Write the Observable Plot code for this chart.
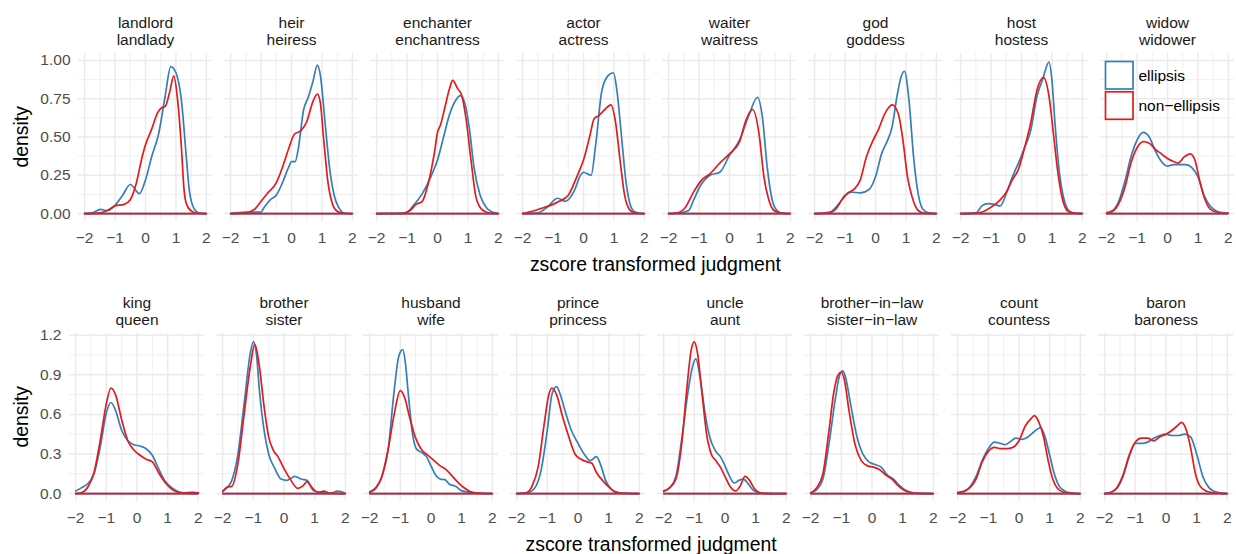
<!DOCTYPE html>
<html>
<head>
<meta charset="utf-8">
<script src="https://cdn.jsdelivr.net/npm/d3@7"></script>
<script src="https://cdn.jsdelivr.net/npm/@observablehq/plot@0.6"></script>
<style>
  html, body { margin: 0; padding: 0; background: #fff; }
  #chart { width: 1236px; }
  #chart svg { display: block; }
</style>
</head>
<body>
<div id="chart"></div>
<script>
// ---------- categories ----------
const seriesNames = ["ellipsis", "non-ellipsis"];
const seriesColors = ["#377EB8", "#E41A1C"];
const row1Panels = ["landlord", "heir", "enchanter", "actor", "waiter", "god", "host", "widow"];
const row1Labels = ["landlord\nlandlady", "heir\nheiress", "enchanter\nenchantress", "actor\nactress", "waiter\nwaitress", "god\ngoddess", "host\nhostess", "widow\nwidower"];
const row2Panels = ["king", "brother", "husband", "prince", "uncle", "bil", "count", "baron"];
const row2Labels = ["king\nqueen", "brother\nsister", "husband\nwife", "prince\nprincess", "uncle\naunt", "brother\u2212in\u2212law\nsister\u2212in\u2212law", "count\ncountess", "baron\nbaroness"];

// ---------- tick labels ----------
const xTicks = [-2, -1, 0, 1, 2];
const xMinor = [-1.5, -0.5, 0.5, 1.5];
const row1YTicks = [0, 0.25, 0.5, 0.75, 1.0];
const row1YMinor = [0.125, 0.375, 0.625, 0.875];
const row2YTicks = [0, 0.3, 0.6, 0.9, 1.2];
const row2YMinor = [0.15, 0.45, 0.75, 1.05];

// ---------- density values [x, density] ----------
const landlord_e = [[-2,0],[-1.75,0.005],[-1.48,0.027],[-1.25,0.02],[-1.0,0.054],[-0.75,0.12],[-0.5,0.19],[-0.2,0.13],[0,0.22],[0.2,0.37],[0.43,0.52],[0.64,0.76],[0.83,0.96],[1.0,0.92],[1.18,0.74],[1.34,0.37],[1.44,0.15],[1.6,0.03],[1.75,0.005],[2,0]];
const landlord_n = [[-2,0],[-1.6,0.003],[-1.3,0.015],[-1.0,0.05],[-0.7,0.06],[-0.5,0.09],[-0.3,0.2],[-0.1,0.38],[0,0.45],[0.2,0.55],[0.4,0.66],[0.52,0.69],[0.65,0.7],[0.8,0.8],[0.93,0.9],[1.05,0.75],[1.18,0.43],[1.26,0.17],[1.34,0.065],[1.5,0.017],[1.7,0.002],[2,0]];
const heir_e = [[-2,0],[-1.5,0.01],[-1.0,0.01],[-0.9,0.04],[-0.7,0.09],[-0.5,0.12],[-0.3,0.2],[-0.1,0.3],[0,0.34],[0.12,0.34],[0.22,0.42],[0.4,0.68],[0.55,0.76],[0.7,0.86],[0.85,0.97],[0.95,0.9],[1.1,0.6],[1.25,0.3],[1.4,0.12],[1.55,0.04],[1.75,0.002],[2,0]];
const heir_n = [[-2,0],[-1.5,0.005],[-1.2,0.03],[-1.0,0.08],[-0.8,0.13],[-0.5,0.2],[-0.3,0.3],[-0.1,0.42],[0.1,0.52],[0.3,0.54],[0.5,0.6],[0.7,0.73],[0.85,0.78],[0.95,0.72],[1.05,0.5],[1.2,0.2],[1.35,0.06],[1.5,0.015],[1.7,0.002],[2,0]];
const enchanter_e = [[-2,0],[-1.2,0.001],[-1.0,0.01],[-0.8,0.05],[-0.5,0.13],[-0.2,0.25],[0,0.35],[0.2,0.5],[0.4,0.65],[0.6,0.74],[0.75,0.77],[0.9,0.72],[1.05,0.55],[1.2,0.3],[1.4,0.12],[1.6,0.04],[1.8,0.01],[2,0]];
const enchanter_n = [[-2,0],[-1.1,0.001],[-0.9,0.02],[-0.7,0.06],[-0.5,0.08],[-0.3,0.2],[-0.1,0.4],[0,0.53],[0.1,0.58],[0.25,0.7],[0.4,0.82],[0.5,0.87],[0.65,0.82],[0.8,0.77],[0.95,0.6],[1.1,0.35],[1.25,0.12],[1.4,0.04],[1.6,0.01],[1.8,0.001],[2,0]];
const actor_e = [[-2,0],[-1.5,0.005],[-1.2,0.04],[-0.85,0.1],[-0.6,0.08],[-0.3,0.15],[-0.1,0.25],[0,0.27],[0.25,0.25],[0.4,0.45],[0.6,0.8],[0.8,0.9],[0.98,0.92],[1.1,0.8],[1.25,0.5],[1.4,0.2],[1.55,0.05],[1.7,0.01],[1.9,0.001],[2,0]];
const actor_n = [[-2,0],[-1.6,0.02],[-1.3,0.04],[-1.0,0.06],[-0.8,0.08],[-0.5,0.12],[-0.2,0.25],[0,0.35],[0.2,0.5],[0.35,0.62],[0.5,0.64],[0.7,0.68],[0.9,0.71],[1.05,0.6],[1.2,0.35],[1.35,0.12],[1.5,0.03],[1.7,0.002],[2,0]];
const waiter_e = [[-2,0],[-1.6,0.005],[-1.34,0.02],[-1.18,0.087],[-0.96,0.18],[-0.64,0.25],[-0.32,0.27],[0,0.38],[0.33,0.48],[0.65,0.65],[0.92,0.76],[1.08,0.63],[1.24,0.3],[1.4,0.09],[1.56,0.02],[1.75,0.002],[2,0]];
const waiter_n = [[-2,0],[-1.72,0.005],[-1.45,0.04],[-1.18,0.14],[-0.91,0.22],[-0.64,0.26],[-0.32,0.33],[0,0.39],[0.33,0.47],[0.54,0.61],[0.76,0.68],[0.97,0.52],[1.13,0.24],[1.29,0.09],[1.46,0.02],[1.65,0.005],[2,0]];
const god_e = [[-2,0],[-1.5,0.01],[-1.2,0.065],[-1.0,0.12],[-0.8,0.14],[-0.5,0.135],[-0.2,0.16],[0,0.24],[0.2,0.39],[0.4,0.48],[0.55,0.57],[0.7,0.76],[0.85,0.9],[0.95,0.93],[1.1,0.74],[1.25,0.37],[1.4,0.13],[1.55,0.03],[1.75,0.005],[2,0]];
const god_n = [[-2,0],[-1.5,0.005],[-1.3,0.03],[-1.1,0.09],[-0.9,0.135],[-0.7,0.16],[-0.5,0.22],[-0.3,0.37],[-0.1,0.47],[0.1,0.55],[0.3,0.65],[0.55,0.71],[0.75,0.65],[0.9,0.48],[1.05,0.24],[1.2,0.11],[1.4,0.02],[1.6,0.003],[2,0]];
const host_e = [[-2,0],[-1.5,0.005],[-1.3,0.05],[-1.1,0.065],[-0.9,0.06],[-0.7,0.05],[-0.5,0.13],[-0.3,0.24],[-0.1,0.33],[0.1,0.43],[0.3,0.54],[0.5,0.76],[0.7,0.88],[0.9,0.99],[1.0,0.87],[1.1,0.59],[1.25,0.26],[1.4,0.09],[1.55,0.02],[1.7,0.005],[2,0]];
const host_n = [[-2,0],[-1.5,0.003],[-1.3,0.01],[-1.1,0.03],[-0.9,0.055],[-0.7,0.09],[-0.5,0.14],[-0.3,0.22],[-0.1,0.29],[0.1,0.43],[0.3,0.59],[0.5,0.8],[0.72,0.89],[0.9,0.77],[1.05,0.52],[1.2,0.26],[1.35,0.09],[1.5,0.02],[1.7,0.003],[2,0]];
const widow_e = [[-2,0.005],[-1.8,0.02],[-1.6,0.08],[-1.4,0.21],[-1.2,0.37],[-1.0,0.48],[-0.8,0.53],[-0.6,0.5],[-0.4,0.41],[-0.2,0.34],[0,0.31],[0.2,0.32],[0.4,0.32],[0.6,0.32],[0.8,0.3],[1.0,0.24],[1.2,0.12],[1.4,0.05],[1.6,0.017],[1.8,0.006],[2,0.002]];
const widow_n = [[-2,0.004],[-1.8,0.015],[-1.6,0.065],[-1.4,0.17],[-1.2,0.33],[-1.0,0.43],[-0.8,0.47],[-0.6,0.46],[-0.4,0.42],[-0.2,0.39],[0,0.36],[0.2,0.34],[0.35,0.33],[0.55,0.37],[0.75,0.39],[0.9,0.35],[1.05,0.22],[1.2,0.11],[1.4,0.03],[1.6,0.01],[1.8,0.003],[2,0.001]];

const king_e = [[-2,0.02],[-1.8,0.045],[-1.6,0.076],[-1.4,0.15],[-1.2,0.35],[-1.0,0.61],[-0.85,0.69],[-0.7,0.63],[-0.5,0.48],[-0.3,0.4],[-0.1,0.37],[0.1,0.36],[0.3,0.34],[0.5,0.29],[0.7,0.19],[0.9,0.1],[1.1,0.05],[1.3,0.02],[1.5,0.005],[1.7,0.002],[2,0]];
const king_n = [[-2,0],[-1.8,0.008],[-1.6,0.05],[-1.4,0.16],[-1.2,0.4],[-1.0,0.68],[-0.85,0.8],[-0.7,0.75],[-0.5,0.56],[-0.3,0.4],[-0.1,0.33],[0.1,0.29],[0.3,0.26],[0.5,0.24],[0.7,0.16],[0.9,0.09],[1.1,0.04],[1.3,0.013],[1.5,0.005],[1.7,0.008],[1.85,0.01],[2,0.005]];
const brother_e = [[-2,0.02],[-1.85,0.045],[-1.7,0.1],[-1.5,0.3],[-1.3,0.68],[-1.1,1.06],[-1.0,1.15],[-0.9,1.06],[-0.8,0.78],[-0.65,0.48],[-0.5,0.3],[-0.3,0.19],[-0.1,0.11],[0.1,0.1],[0.35,0.13],[0.55,0.11],[0.75,0.1],[0.95,0.025],[1.2,0.008],[1.5,0.002],[1.75,0.018],[2,0.002]];
const brother_n = [[-2,0.013],[-1.85,0.05],[-1.7,0.055],[-1.5,0.23],[-1.3,0.6],[-1.1,0.96],[-0.95,1.13],[-0.8,0.96],[-0.65,0.66],[-0.5,0.43],[-0.35,0.33],[-0.2,0.28],[0,0.19],[0.2,0.11],[0.45,0.04],[0.6,0.055],[0.75,0.09],[0.9,0.05],[1.1,0.01],[1.3,0.018],[1.5,0.003],[2,0]];
const husband_e = [[-2,0.013],[-1.8,0.045],[-1.6,0.13],[-1.4,0.33],[-1.2,0.78],[-1.05,1.04],[-0.92,1.09],[-0.83,0.98],[-0.75,0.78],[-0.6,0.45],[-0.48,0.34],[-0.3,0.31],[-0.15,0.28],[0,0.21],[0.15,0.14],[0.3,0.11],[0.45,0.106],[0.6,0.07],[0.8,0.055],[1.0,0.02],[1.2,0.013],[1.4,0.005],[1.6,0.002],[2,0]];
const husband_n = [[-2,0.008],[-1.8,0.04],[-1.6,0.13],[-1.4,0.33],[-1.2,0.6],[-1.0,0.78],[-0.85,0.72],[-0.7,0.58],[-0.5,0.42],[-0.3,0.33],[-0.1,0.29],[0.1,0.25],[0.3,0.21],[0.5,0.18],[0.7,0.13],[0.9,0.08],[1.1,0.04],[1.3,0.013],[1.5,0.005],[1.7,0.001],[2,0]];
const prince_e = [[-2,0],[-1.6,0.01],[-1.4,0.045],[-1.2,0.18],[-1.0,0.48],[-0.85,0.75],[-0.7,0.81],[-0.55,0.73],[-0.4,0.61],[-0.2,0.47],[0,0.38],[0.2,0.3],[0.4,0.25],[0.6,0.28],[0.75,0.21],[0.9,0.1],[1.1,0.03],[1.3,0.008],[1.5,0.002],[2,0]];
const prince_n = [[-2,0],[-1.7,0.005],[-1.5,0.055],[-1.3,0.2],[-1.1,0.53],[-0.95,0.75],[-0.85,0.8],[-0.7,0.75],[-0.5,0.58],[-0.3,0.43],[-0.1,0.3],[0.1,0.26],[0.3,0.24],[0.45,0.23],[0.6,0.16],[0.8,0.1],[1.0,0.05],[1.2,0.013],[1.4,0.003],[2,0]];
const uncle_e = [[-2,0.02],[-1.8,0.045],[-1.6,0.13],[-1.4,0.43],[-1.2,0.78],[-1.05,0.97],[-0.95,1.02],[-0.8,0.86],[-0.65,0.61],[-0.5,0.43],[-0.3,0.32],[-0.15,0.28],[0,0.21],[0.15,0.13],[0.3,0.08],[0.45,0.1],[0.6,0.11],[0.75,0.075],[0.9,0.03],[1.1,0.008],[1.3,0.002],[2,0]];
const uncle_n = [[-2,0.015],[-1.8,0.045],[-1.6,0.11],[-1.4,0.4],[-1.25,0.78],[-1.1,1.09],[-1.0,1.15],[-0.9,1.07],[-0.75,0.76],[-0.6,0.45],[-0.45,0.3],[-0.3,0.25],[-0.15,0.2],[0,0.13],[0.15,0.06],[0.35,0.02],[0.5,0.06],[0.65,0.13],[0.8,0.1],[0.95,0.04],[1.1,0.01],[1.3,0.002],[2,0]];
const bil_e = [[-2,0.005],[-1.8,0.03],[-1.6,0.11],[-1.4,0.38],[-1.2,0.71],[-1.05,0.9],[-0.95,0.93],[-0.85,0.87],[-0.7,0.68],[-0.5,0.44],[-0.3,0.3],[-0.1,0.24],[0.1,0.22],[0.3,0.2],[0.5,0.14],[0.7,0.11],[0.9,0.06],[1.1,0.025],[1.3,0.008],[1.5,0.003],[2,0]];
const bil_n = [[-2,0.005],[-1.8,0.045],[-1.6,0.15],[-1.4,0.48],[-1.25,0.76],[-1.1,0.9],[-1.0,0.92],[-0.9,0.86],[-0.75,0.63],[-0.55,0.37],[-0.35,0.25],[-0.15,0.21],[0.05,0.2],[0.25,0.18],[0.45,0.14],[0.65,0.11],[0.85,0.06],[1.05,0.025],[1.25,0.008],[1.5,0.002],[2,0]];
const count_e = [[-2,0.01],[-1.8,0.018],[-1.6,0.05],[-1.4,0.13],[-1.2,0.25],[-1.0,0.34],[-0.8,0.39],[-0.6,0.38],[-0.45,0.37],[-0.3,0.39],[-0.1,0.42],[0.1,0.41],[0.3,0.43],[0.5,0.47],[0.7,0.5],[0.85,0.43],[1.0,0.29],[1.15,0.15],[1.3,0.06],[1.5,0.018],[1.7,0.005],[2,0]];
const count_n = [[-2,0.005],[-1.8,0.015],[-1.6,0.045],[-1.4,0.11],[-1.2,0.24],[-1.0,0.32],[-0.8,0.35],[-0.6,0.34],[-0.4,0.34],[-0.2,0.35],[0,0.4],[0.2,0.51],[0.4,0.57],[0.5,0.59],[0.65,0.54],[0.8,0.43],[0.95,0.25],[1.1,0.11],[1.25,0.04],[1.45,0.01],[1.7,0.002],[2,0]];
const baron_e = [[-2,0],[-1.8,0.008],[-1.6,0.04],[-1.4,0.13],[-1.2,0.28],[-1.0,0.38],[-0.8,0.38],[-0.6,0.39],[-0.4,0.42],[-0.2,0.44],[0,0.45],[0.2,0.44],[0.4,0.44],[0.6,0.45],[0.8,0.43],[1.0,0.3],[1.2,0.13],[1.4,0.045],[1.6,0.015],[1.8,0.004],[2,0]];
const baron_n = [[-2,0],[-1.8,0.01],[-1.6,0.045],[-1.4,0.14],[-1.2,0.29],[-1.0,0.39],[-0.8,0.42],[-0.6,0.42],[-0.4,0.4],[-0.2,0.43],[0,0.45],[0.2,0.48],[0.4,0.52],[0.5,0.54],[0.65,0.49],[0.8,0.35],[0.95,0.16],[1.1,0.06],[1.3,0.02],[1.5,0.008],[1.8,0.002],[2,0]];

const row1Series = {
  landlord: [landlord_e, landlord_n], heir: [heir_e, heir_n], enchanter: [enchanter_e, enchanter_n],
  actor: [actor_e, actor_n], waiter: [waiter_e, waiter_n], god: [god_e, god_n], host: [host_e, host_n], widow: [widow_e, widow_n]
};
const row2Series = {
  king: [king_e, king_n], brother: [brother_e, brother_n], husband: [husband_e, husband_n],
  prince: [prince_e, prince_n], uncle: [uncle_e, uncle_n], bil: [bil_e, bil_n], count: [count_e, count_n], baron: [baron_e, baron_n]
};

// ---------- drawing ----------
const FONT = "'Liberation Sans', Arial, Helvetica, sans-serif";
const minus = d => (d < 0 ? "\u2212" + Math.abs(d) : String(d));
const LW = 1.7;

function buildTable(panels, seriesMap) {
  const rows = [];
  seriesNames.forEach((s, si) => {
    panels.forEach(p => {
      seriesMap[p][si].forEach(([x, y]) => rows.push({panel: p, series: s, x, y}));
    });
  });
  return rows;
}

function makeRow({panels, labels, seriesMap, yTicks, yMinor, yFormat, yMax, height, left, pad, legend}) {
  const table = buildTable(panels, seriesMap);
  const base = seriesNames.flatMap(s => panels.map(p => ({panel: p, series: s})));
  const labelOf = Object.fromEntries(panels.map((p, i) => [p, labels[i]]));
  const panelBottom = 220.7;
  const svg = Plot.plot({
    width: 1236,
    height,
    marginLeft: left,
    marginRight: 0,
    marginTop: 53,
    marginBottom: height - panelBottom,
    style: {fontFamily: FONT, fontSize: "15.5px", background: "transparent"},
    fx: {domain: panels, axis: null, paddingInner: pad, paddingOuter: 0},
    x: {domain: [-2.2, 2.2], axis: null},
    y: {domain: [-0.05 * yMax, 1.05 * yMax], axis: null},
    color: {domain: seriesNames, range: seriesColors},
    marks: [
      Plot.ruleX(xMinor, {stroke: "#ebebeb", strokeWidth: 0.8}),
      Plot.ruleY(yMinor, {stroke: "#ebebeb", strokeWidth: 0.8}),
      Plot.ruleX(xTicks, {stroke: "#ebebeb", strokeWidth: 1.5}),
      Plot.ruleY(yTicks, {stroke: "#ebebeb", strokeWidth: 1.5}),
      Plot.line(table, {fx: "panel", x: "x", y: "y", z: "series", stroke: "series", curve: "monotone-x", strokeWidth: LW}),
      Plot.ruleY(base, {fx: "panel", y: () => 0, x1: () => -2, x2: () => 2, stroke: "series", strokeWidth: LW}),
      Plot.axisX({ticks: xTicks, tickFormat: minus, tickSize: 0, tickPadding: 10.5, color: "#4d4d4d", label: null}),
      Plot.axisY({ticks: yTicks, tickFormat: yFormat, tickSize: 0, tickPadding: 8, color: "#4d4d4d", label: null}),
      Plot.text(panels, {fx: d => d, text: d => labelOf[d], frameAnchor: "top", dy: -22.5, lineAnchor: "middle", lineHeight: 1.1, fill: "#1a1a1a"})
    ]
  });
  const s = d3.select(svg);
  s.append("text").attr("x", (left + 1236) / 2).attr("y", 270.7).attr("text-anchor", "middle")
    .attr("font-family", FONT).attr("font-size", "19.4px").attr("fill", "#000").text("zscore transformed judgment");
  s.append("text").attr("transform", `translate(${27.5},${(53 + panelBottom) / 2}) rotate(-90)`).attr("text-anchor", "middle")
    .attr("font-family", FONT).attr("font-size", "19.4px").attr("fill", "#000").text("density");
  if (legend) {
    const g = s.append("g");
    const keys = [{name: "ellipsis", c: seriesColors[0], y: 61.5}, {name: "non\u2212ellipsis", c: seriesColors[1], y: 91.8}];
    keys.forEach(k => {
      g.append("rect").attr("x", 1105.5).attr("y", k.y).attr("width", 27.5).attr("height", 27.5)
        .attr("fill", "#fff").attr("stroke", k.c).attr("stroke-width", LW);
      g.append("text").attr("x", 1138.5).attr("y", k.y + 13.75).attr("dy", "0.35em").attr("text-anchor", "start")
        .attr("font-family", FONT).attr("font-size", "15.5px").attr("fill", "#000").text(k.name);
    });
  }
  return svg;
}

const chart = document.getElementById("chart");
chart.appendChild(makeRow({
  panels: row1Panels, labels: row1Labels, seriesMap: row1Series,
  yTicks: row1YTicks, yMinor: row1YMinor, yFormat: d3.format(".2f"), yMax: 0.996,
  height: 280, left: 74.9, pad: 0.084, legend: true
}));
chart.appendChild(makeRow({
  panels: row2Panels, labels: row2Labels, seriesMap: row2Series,
  yTicks: row2YTicks, yMinor: row2YMinor, yFormat: d3.format(".1f"), yMax: 1.155,
  height: 274, left: 66.2, pad: 0.08, legend: false
}));
</script>
</body>
</html>
